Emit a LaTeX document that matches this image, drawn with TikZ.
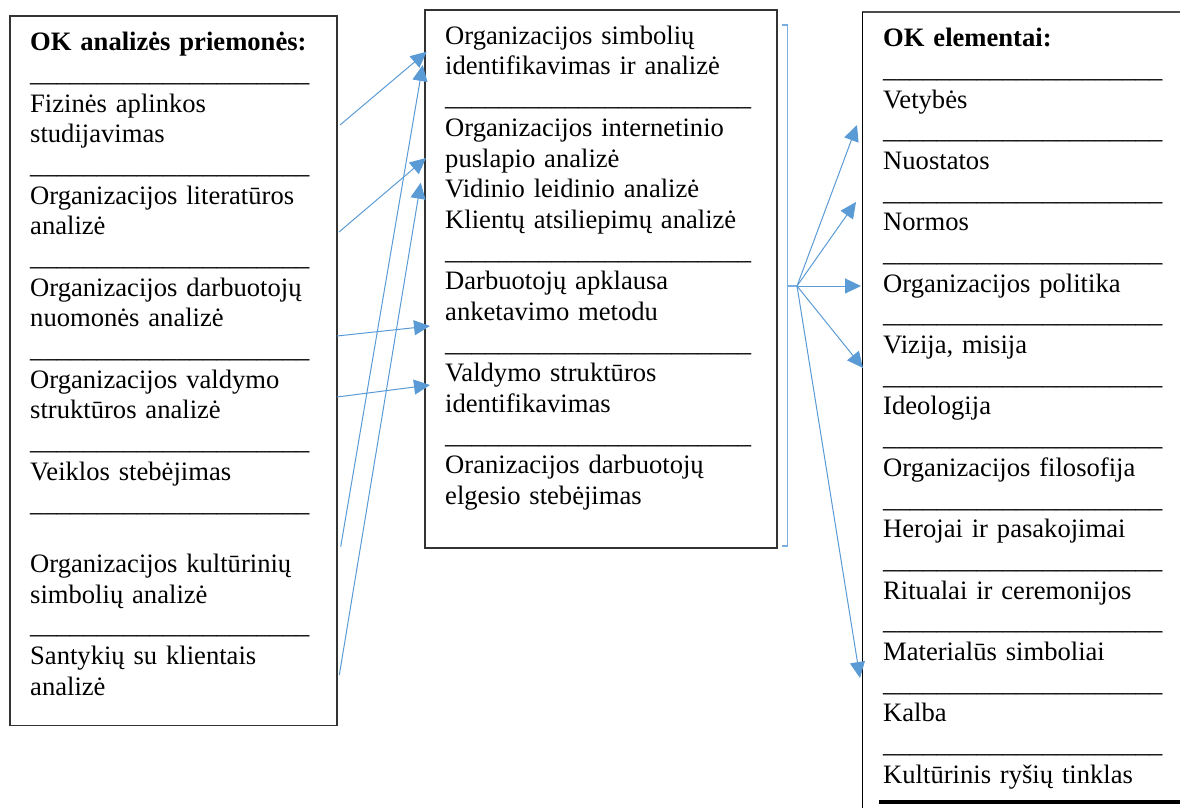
\documentclass[tikz,border=0pt]{standalone}
\usepackage{fontspec}
\setmainfont{Liberation Serif}
\usetikzlibrary{arrows.meta}
\definecolor{arrowblue}{HTML}{5B9BD5}
\definecolor{brkblue}{HTML}{7AAEE0}
\definecolor{boxgray}{HTML}{333333}
\newcommand\uslong{\_\_\_\_\_\_\_\_\_\_\_\_\_\_\_\_\_\_\_\_\_}
\newcommand\usmid{\_\_\_\_\_\_\_\_\_\_\_\_\_\_\_\_\_\_\_\_\_\_\_}
\newcommand\boxfont{\fontsize{26.6pt}{30.69pt}\selectfont}
\begin{document}
\begin{tikzpicture}[x=1pt,y=-1pt,
  boxline/.style={draw=boxgray,line width=1.3pt},
  txt/.style={anchor=base west,inner sep=0pt,text width=360pt,align=left,font=\boxfont},
  conn/.style={draw=arrowblue,line width=1pt,-{Triangle[length=16pt,width=15pt]}},
  brk/.style={draw=brkblue,line width=1.6pt}]
\useasboundingbox (0,0) rectangle (1180,807);
\clip (0,0) rectangle (1180,807);
% boxes
\draw[boxline] (10,16) rectangle (337,725.7);
\draw[boxline] (425,10) rectangle (777,548);
\draw[draw=black!70,line width=1.8pt] (1185,12) -- (862.3,12);
\draw[draw=black,line width=1.3pt] (862.3,12) -- (862.3,812);
\draw[draw=black,line width=4pt] (879,801.7) -- (1185,801.7);
% texts
\node[txt] (lefttext) at (30,50.7) {\textbf{OK analizės priemonės:}\\
\uslong\\
Fizinės aplinkos\\
studijavimas\\
\uslong\\
Organizacijos literatūros\\
analizė\\
\uslong\\
Organizacijos darbuotojų\\
nuomonės analizė\\
\uslong\\
Organizacijos valdymo\\
struktūros analizė\\
\uslong\\
Veiklos stebėjimas\\
\uslong\\
\mbox{}\\
Organizacijos kultūrinių\\
simbolių analizė\\
\uslong\\
Santykių su klientais\\
analizė};
\node[txt] (midtext) at (445,44.3) {Organizacijos simbolių\\
identifikavimas ir analizė\\
\usmid\\
Organizacijos internetinio\\
puslapio analizė\\
Vidinio leidinio analizė\\
Klientų atsiliepimų analizė\\
\usmid\\
Darbuotojų apklausa\\
anketavimo metodu\\
\usmid\\
Valdymo struktūros\\
identifikavimas\\
\usmid\\
Oranizacijos darbuotojų\\
elgesio stebėjimas};
\node[txt] (righttext) at (883,46.7) {\textbf{OK elementai:}\\
\uslong\\
Vetybės\\
\uslong\\
Nuostatos\\
\uslong\\
Normos\\
\uslong\\
Organizacijos politika\\
\uslong\\
Vizija, misija\\
\uslong\\
Ideologija\\
\uslong\\
Organizacijos filosofija\\
\uslong\\
Herojai ir pasakojimai\\
\uslong\\
Ritualai ir ceremonijos\\
\uslong\\
Materialūs simboliai\\
\uslong\\
Kalba\\
\uslong\\
Kultūrinis ryšių tinklas};
% connector end points
\coordinate (sA) at (340,125);   \coordinate (tA) at (426.7,51.7);
\coordinate (sB) at (339,232);   \coordinate (tB) at (426,158);
\coordinate (sC) at (337,336);   \coordinate (tC) at (430,326);
\coordinate (sD) at (337,397);   \coordinate (tD) at (430,385);
\coordinate (sE) at (340.7,546.7); \coordinate (tE) at (422.7,65);
\coordinate (sF) at (339.3,675); \coordinate (tF) at (420.7,182.7);
\coordinate (bTop) at (782.3,25); \coordinate (bTopR) at (787.3,25);
\coordinate (bBot) at (782.3,545.7); \coordinate (bBotR) at (787.3,545.7);
\coordinate (bMid) at (787.3,286); \coordinate (fan) at (797,286);
\coordinate (r1) at (857,125);
\coordinate (r2) at (856,202);
\coordinate (r3) at (861,286);
\coordinate (r4) at (863,368);
\coordinate (r5) at (860,678);
% connectors
\draw[conn] (sA) -- (tA);
\draw[conn] (sB) -- (tB);
\draw[conn] (sC) -- (tC);
\draw[conn] (sD) -- (tD);
\draw[conn] (sE) -- (tE);
\draw[conn] (sF) -- (tF);
\draw[brk] (bTop) -- (bTopR) -- (bBotR) -- (bBot);
\draw[brk,line width=1.2pt] (bMid) -- (fan);
\draw[conn] (fan) -- (r1);
\draw[conn] (fan) -- (r2);
\draw[conn] (fan) -- (r3);
\draw[conn] (fan) -- (r4);
\draw[conn] (fan) -- (r5);
\end{tikzpicture}
\end{document}
